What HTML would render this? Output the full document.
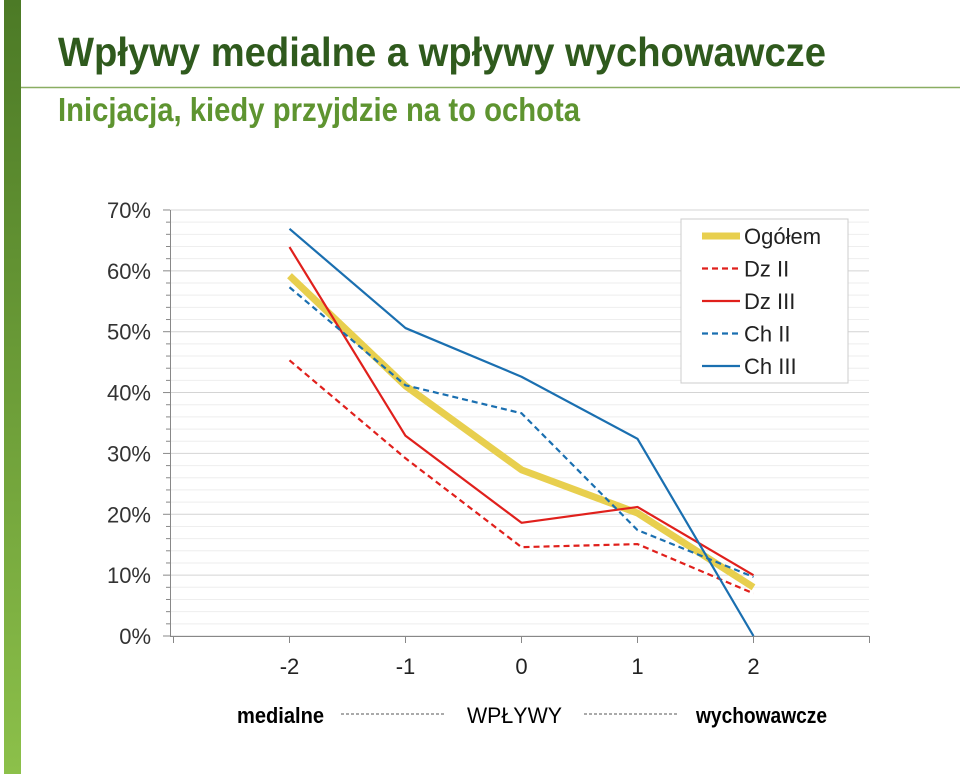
<!DOCTYPE html>
<html><head><meta charset="utf-8"><style>
body{margin:0;background:#fff;width:960px;height:774px;overflow:hidden;font-family:"Liberation Sans",sans-serif}
</style></head><body>
<svg id="c" width="960" height="774" xmlns="http://www.w3.org/2000/svg">
<defs><linearGradient id="g" x1="0" y1="0" x2="0" y2="1"><stop offset="0" stop-color="#4c7a26"/><stop offset="1" stop-color="#8cc04a"/></linearGradient></defs>
<rect x="4" y="0" width="17" height="774" fill="url(#g)"/>
<line x1="21" y1="87.5" x2="960" y2="87.5" stroke="#8aae62" stroke-width="1.5"/>
<text x="58" y="66" font-family="'Liberation Sans Narrow','Liberation Sans',sans-serif" font-weight="bold" font-size="41" fill="#2f5a1d" textLength="768" lengthAdjust="spacingAndGlyphs">Wpływy medialne a wpływy wychowawcze</text>
<text x="58" y="121" font-family="'Liberation Sans Narrow','Liberation Sans',sans-serif" font-weight="bold" font-size="33" fill="#5e9430" textLength="522" lengthAdjust="spacingAndGlyphs">Inicjacja, kiedy przyjdzie na to ochota</text>
<g id="grid"></g><g id="axes"></g><g id="series"></g>
<g>
<rect x="681" y="219" width="167" height="164" fill="#fff" stroke="#ccc"/>
</g><g id="leg"></g>
<text x="237" y="723" font-family="'Liberation Sans Narrow','Liberation Sans',sans-serif" font-weight="bold" font-size="22" fill="#000" textLength="87" lengthAdjust="spacingAndGlyphs">medialne</text>
<line x1="341" y1="714" x2="444" y2="714" stroke="#555" stroke-dasharray="3,2"/>
<text x="467" y="723" font-size="22" fill="#000" textLength="95" lengthAdjust="spacingAndGlyphs">WPŁYWY</text>
<line x1="584" y1="714" x2="679" y2="714" stroke="#555" stroke-dasharray="3,2"/>
<text x="696" y="723" font-family="'Liberation Sans Narrow','Liberation Sans',sans-serif" font-weight="bold" font-size="22" fill="#000" textLength="131" lengthAdjust="spacingAndGlyphs">wychowawcze</text>
</svg>
<script>
const categories=["-2","-1","0","1","2"];
const yTicks=[0,10,20,30,40,50,60,70];
const seriesNames=["Ogółem","Dz II","Dz III","Ch II","Ch III"];
const ogolem=[59.2,41.1,27.3,20.2,8.0];
const dz2=[45.3,29.2,14.6,15.1,7.0];
const dz3=[63.9,32.9,18.6,21.2,10.0];
const ch2=[57.3,41.2,36.6,17.4,9.7];
const ch3=[66.9,50.6,42.6,32.4,0];
const NS="http://www.w3.org/2000/svg";
const xFirst=289.5,cw=116,yBase=636,pxPer=6.086;
const X=i=>xFirst+cw*i;
const Y=v=>yBase-v*pxPer;
function mk(tag,attrs,parent){const e=document.createElementNS(NS,tag);for(const k in attrs)e.setAttribute(k,attrs[k]);document.getElementById(parent).appendChild(e);return e;}
for(let v=0;v<=70;v+=2){
 const major=v%10===0;
 const l=mk("line",{x1:170,x2:869,y1:Y(v),y2:Y(v),stroke:major?"#d4d4d4":"#eeeeee","stroke-width":1},"grid");
 
 
 const t=mk("line",{x1:major?163:166,x2:170,y1:Y(v),y2:Y(v),stroke:"#888"},"axes");
 
 
}
yTicks.forEach(v=>{
 const t=mk("text",{x:151,y:Y(v)+8,"text-anchor":"end","font-size":"22",fill:"#333"},"axes");
 t.textContent=v+"%";
 
 
});
let a=mk("line",{x1:170.5,x2:170.5,y1:Y(70),y2:yBase,stroke:"#888"},"axes");


a=mk("line",{x1:170,x2:869,y1:yBase+0.5,y2:yBase+0.5,stroke:"#888"},"axes");


const tickXs=[173.5,869.5];
categories.forEach((c,i)=>tickXs.push(X(i)));
tickXs.forEach(x=>{
 const t=mk("line",{x1:x,x2:x,y1:yBase,y2:yBase+7,stroke:"#888"},"axes");
 
 
});
categories.forEach((c,i)=>{
 const t=mk("text",{x:X(i),y:674,"text-anchor":"middle","font-size":"22",fill:"#222"},"axes");
 t.textContent=c;
 
 
});
const styles=[{c:"#e8cf4e",w:7,d:"none"},{c:"#e0201c",w:2.2,d:"6,4"},{c:"#e0201c",w:2.2,d:"none"},{c:"#1a6fb0",w:2.2,d:"6,4"},{c:"#1a6fb0",w:2.2,d:"none"}];
[ogolem,dz2,dz3,ch2,ch3].forEach((s,k)=>{
 const p=mk("polyline",{points:s.map((v,i)=>X(i)+","+Y(v)).join(" "),fill:"none",stroke:styles[k].c,"stroke-width":styles[k].w,"stroke-dasharray":styles[k].d,"stroke-linejoin":"round"},"series");
 
 
 const ly=236+k*32.5;
 const l=mk("line",{x1:702,x2:740,y1:ly,y2:ly,stroke:styles[k].c,"stroke-width":styles[k].w,"stroke-dasharray":styles[k].d},"leg");
 
 
 const t=mk("text",{x:744,y:ly+8,"font-size":"22",fill:"#222"},"leg");
 t.textContent=seriesNames[k];
 
 
});
</script>
</body></html>
